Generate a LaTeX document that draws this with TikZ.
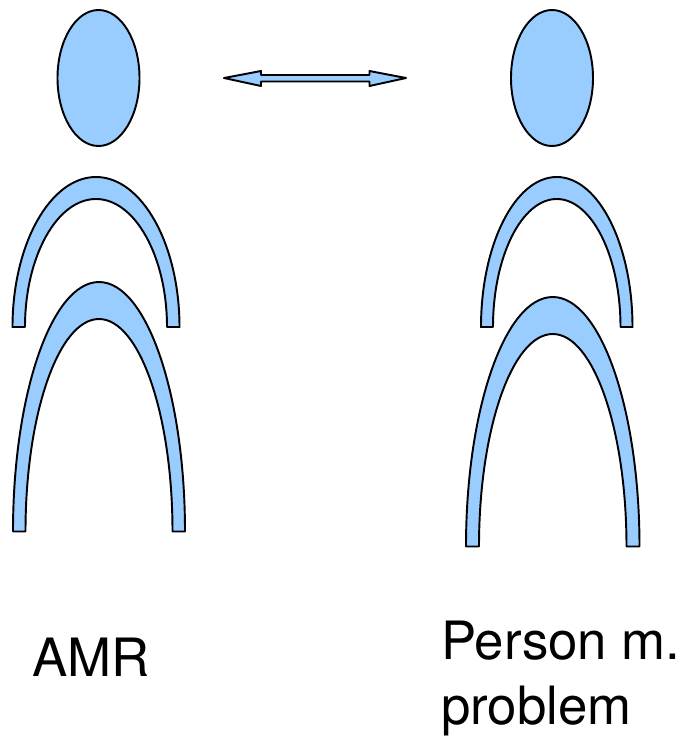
\documentclass[tikz,border=0pt]{standalone}
\usepackage{fontspec}
\setmainfont{TeX Gyre Heros}
\definecolor{fillblue}{HTML}{99CCFF}
\tikzset{
  shapeline/.style={draw=black,fill=fillblue,line width=1.45pt,line join=round},
  lab/.style={anchor=base west,inner sep=0pt,font=\fontsize{39.6}{40}\selectfont}
}
% #1 left outer x, #2 right outer x, #3 bottom y (px, from top), #4 outer top y, #5 inner top y, #6 foot width
\newcommand{\archshape}[6]{%
  \pgfmathsetmacro{\xl}{#1}\pgfmathsetmacro{\xr}{#2}\pgfmathsetmacro{\xm}{(#1+#2)/2}%
  \pgfmathsetmacro{\xli}{#1+#6}\pgfmathsetmacro{\xri}{#2-#6}%
  \pgfmathsetmacro{\by}{-(#3)}\pgfmathsetmacro{\ot}{-(#4)}\pgfmathsetmacro{\it}{-(#5)}%
  \pgfmathsetmacro{\ho}{0.55*(\ot-\by)}\pgfmathsetmacro{\hi}{0.55*(\it-\by)}%
  \pgfmathsetmacro{\wo}{0.5*(\xr-\xl)*0.55}\pgfmathsetmacro{\wi}{0.5*(\xri-\xli)*0.55}%
  \draw[shapeline] (\xl,\by) .. controls (\xl,\by+\ho) and (\xm-\wo,\ot) .. (\xm,\ot)
    .. controls (\xm+\wo,\ot) and (\xr,\by+\ho) .. (\xr,\by) -- (\xri,\by)
    .. controls (\xri,\by+\hi) and (\xm+\wi,\it) .. (\xm,\it)
    .. controls (\xm-\wi,\it) and (\xli,\by+\hi) .. (\xli,\by) -- cycle;%
}
\begin{document}
\begin{tikzpicture}[x=0.75pt,y=0.75pt]
\useasboundingbox (0,0) rectangle (682,-736);
\draw[shapeline] (98.5,-78) ellipse [x radius=41,y radius=68];
\draw[shapeline] (552,-78) ellipse [x radius=41,y radius=68];
\archshape{12.5}{179.5}{327}{177}{199}{12.5}
\archshape{13}{185}{531.5}{282}{319}{12.5}
\archshape{481}{632.5}{327}{177}{199}{12}
\archshape{466}{639.5}{546.5}{297}{334}{13}
\draw[shapeline] (224,-78) -- (261,-71) -- (261,-75) -- (369.5,-75) -- (369.5,-71) -- (406,-78) -- (369.5,-86) -- (369.5,-81.5) -- (261,-81.5) -- (261,-86) -- cycle;
\node[lab] (amr) at (32.5,-676) {AMR};
\node[lab] (pm) at (441,-659) {Person m.};
\node[lab] (pr) at (441,-724) {problem};
\end{tikzpicture}
\end{document}
